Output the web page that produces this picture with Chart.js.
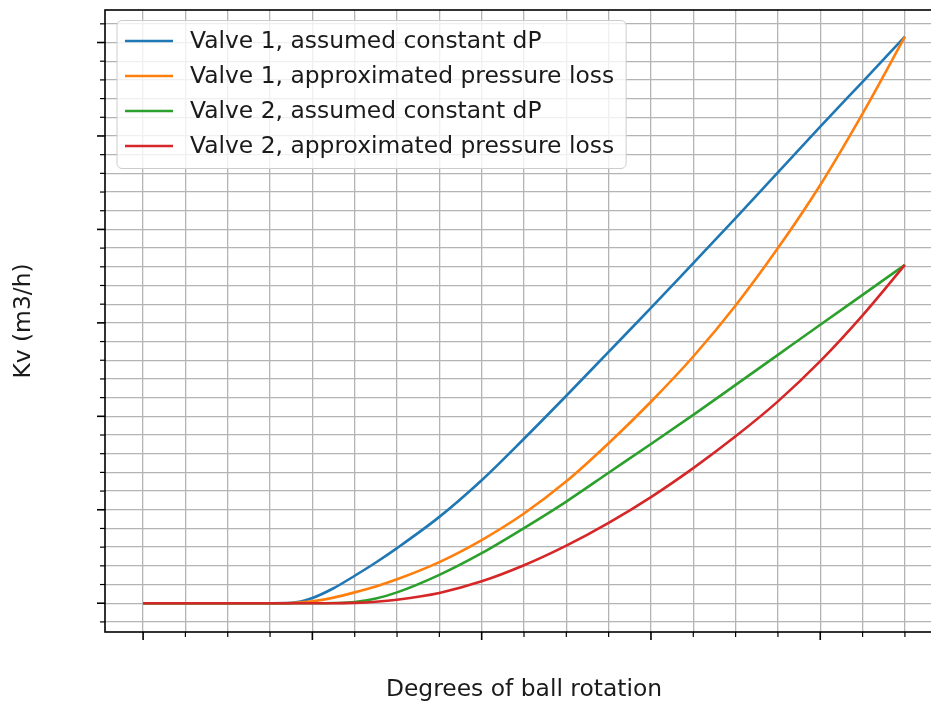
<!DOCTYPE html>
<html lang="en">
<head>
  <meta charset="UTF-8">
  <title>Valve Kv</title>
  <script src="https://cdn.jsdelivr.net/npm/chart.js"></script>
  <style>
    html, body { margin: 0; padding: 0; overflow: hidden; background: #fff; }
    canvas { display: block; }
  </style>
</head>
<body>
  <canvas id="kvChart" width="960" height="704"></canvas>

  <script>
    // data (degrees of rotation vs Kv)
    const degrees = [0, 5, 10, 15, 17.5, 20, 22.5, 25, 27.5, 30, 35, 40, 45, 50, 55, 60, 65, 70, 75, 80, 85, 90];
    const valve1Const = [0, 0, 0, 0, 0.02, 0.28, 0.8, 1.47, 2.18, 2.95, 4.62, 6.58, 8.8, 11.1, 13.45, 15.8, 18.2, 20.6, 23.05, 25.5, 27.9, 30.31];
    const valve1Loss = [0, 0, 0, 0, 0.01, 0.1, 0.3, 0.58, 0.9, 1.28, 2.2, 3.38, 4.8, 6.52, 8.56, 10.78, 13.2, 15.93, 19.0, 22.38, 26.2, 30.31];
    const valve2Const = [0, 0, 0, 0, 0, 0, 0.01, 0.06, 0.25, 0.58, 1.52, 2.68, 4.02, 5.44, 6.98, 8.52, 10.08, 11.68, 13.29, 14.9, 16.5, 18.1];
    const valve2Loss = [0, 0, 0, 0, 0, 0, 0, 0.02, 0.08, 0.19, 0.55, 1.17, 2.03, 3.08, 4.3, 5.68, 7.23, 8.93, 10.8, 12.95, 15.4, 18.1];
    const seriesLabels = [
      'Valve 1, assumed constant dP',
      'Valve 1, approximated pressure loss',
      'Valve 2, assumed constant dP',
      'Valve 2, approximated pressure loss'
    ];

    // tick positions (no tick labels are shown in the original)
    const xMajorStep = 20, xMinorStep = 5, xMin = -4.5, xMax = 94.5;
    const yMajorStep = 5, yMinorStep = 1, yMin = -1.54, yMax = 31.74;

    const FONT = "'DejaVu Sans', sans-serif";
    const FONT_SIZE = 23.4;
    const colors = ['#1f77b4', '#ff7f0e', '#2ca02c', '#d62728'];

    function stepTicks(min, max, step) {
      const out = [];
      for (let v = Math.ceil(min / step) * step; v <= max; v += step) out.push({ value: v });
      return out;
    }

    // spines, tick marks and a matplotlib style legend
    const mplDecor = {
      id: 'mplDecor',
      afterDatasetsDraw(chart) {
        const { ctx, chartArea: a, scales: { x, y } } = chart;
        ctx.save();
        ctx.strokeStyle = '#000';
        ctx.lineWidth = 1.6;
        ctx.strokeRect(a.left, a.top, a.right - a.left, a.bottom - a.top);

        x.ticks.forEach(t => {
          const major = t.value % xMajorStep === 0;
          const px = x.getPixelForValue(t.value);
          ctx.lineWidth = major ? 1.6 : 1.2;
          ctx.beginPath();
          ctx.moveTo(px, a.bottom);
          ctx.lineTo(px, a.bottom + (major ? 8 : 5));
          ctx.stroke();
        });
        y.ticks.forEach(t => {
          const major = t.value % yMajorStep === 0;
          const py = y.getPixelForValue(t.value);
          ctx.lineWidth = major ? 1.6 : 1.2;
          ctx.beginPath();
          ctx.moveTo(a.left, py);
          ctx.lineTo(a.left - (major ? 8 : 5), py);
          ctx.stroke();
        });

        // legend
        ctx.font = FONT_SIZE + 'px ' + FONT;
        const textW = Math.max(...chart.data.datasets.map(d => ctx.measureText(d.label).width));
        const bx = a.left + 12, by = a.top + 10.5;
        const bw = 73 + textW + 12, bh = 148;
        ctx.beginPath();
        ctx.roundRect(bx, by, bw, bh, 5);
        ctx.fillStyle = 'rgba(255,255,255,0.8)';
        ctx.fill();
        ctx.strokeStyle = '#cccccc';
        ctx.lineWidth = 1;
        ctx.stroke();
        ctx.textBaseline = 'middle';
        ctx.textAlign = 'left';
        chart.data.datasets.forEach((d, i) => {
          const ry = by + 20.5 + i * 35;
          ctx.strokeStyle = d.borderColor;
          ctx.lineWidth = 2.6;
          ctx.beginPath();
          ctx.moveTo(bx + 8, ry);
          ctx.lineTo(bx + 56, ry);
          ctx.stroke();
          ctx.fillStyle = '#1a1a1a';
          ctx.fillText(d.label, bx + 73, ry + 1);
        });
        ctx.restore();
      }
    };

    const seriesData = [valve1Const, valve1Loss, valve2Const, valve2Loss];

    new Chart(document.getElementById('kvChart').getContext('2d'), {
      type: 'line',
      data: {
        datasets: seriesData.map((vals, i) => ({
          label: seriesLabels[i],
          data: degrees.map((d, j) => ({ x: d, y: vals[j] })),
          borderColor: colors[i],
          backgroundColor: colors[i],
          borderWidth: 2.6,
          pointRadius: 0,
          cubicInterpolationMode: 'monotone',
          order: 4 - i
        }))
      },
      options: {
        responsive: false,
        animation: false,
        devicePixelRatio: 1,
        layout: { padding: { top: 10, right: 17, left: 0, bottom: 0 } },
        plugins: { legend: { display: false }, tooltip: { enabled: false } },
        scales: {
          x: {
            type: 'linear',
            min: xMin,
            max: xMax,
            afterBuildTicks: s => { s.ticks = stepTicks(xMin, xMax, xMinorStep); },
            afterFit: s => { s.height = 72; },
            ticks: { display: false },
            grid: { color: '#b4b4b4', lineWidth: 1.3, drawTicks: false },
            border: { display: false },
            title: {
              display: true,
              text: 'Degrees of ball rotation',
              color: '#1a1a1a',
              font: { family: FONT, size: FONT_SIZE },
              padding: { top: 0, bottom: 0 }
            }
          },
          y: {
            type: 'linear',
            min: yMin,
            max: yMax,
            afterBuildTicks: s => { s.ticks = stepTicks(yMin, yMax, yMinorStep); },
            afterFit: s => { s.width = 105; },
            ticks: { display: false },
            grid: { color: '#b4b4b4', lineWidth: 1.3, drawTicks: false },
            border: { display: false },
            title: {
              display: true,
              text: 'Kv (m3/h)',
              color: '#1a1a1a',
              font: { family: FONT, size: FONT_SIZE },
              padding: { top: 10, bottom: 0 }
            }
          }
        }
      },
      plugins: [mplDecor]
    });
  </script>
</body>
</html>
